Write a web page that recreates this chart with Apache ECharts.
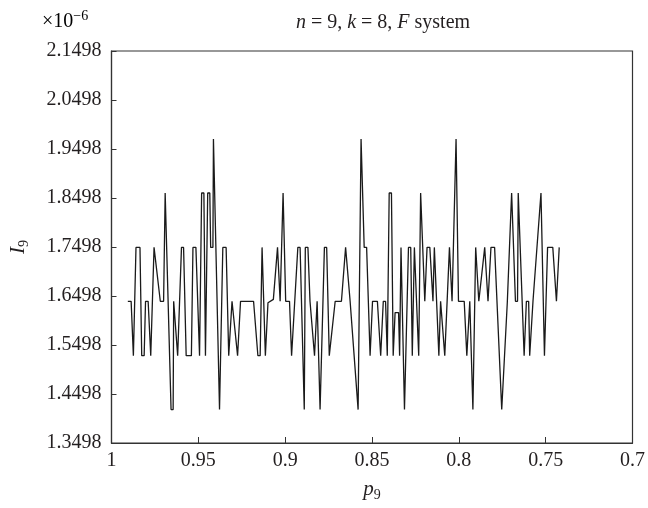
<!DOCTYPE html>
<html>
<head>
<meta charset="utf-8">
<script src="https://cdn.jsdelivr.net/npm/echarts@6/dist/echarts.min.js"></script>
<style>
html,body{margin:0;padding:0;background:#fff;}
#chart{width:648px;height:508px;}
</style>
</head>
<body>
<div id="chart"></div>
<script>
// p9 values (x) and I9 values (y, in units of 1e-6)
const pValues = [
0.9906,0.9887,0.9874,0.9864,0.9859,0.9836,0.9826,0.9812,0.9804,0.9789,
0.9774,0.9764,0.9755,0.9745,0.9719,0.9700,0.9691,0.9682,0.9657,0.9645,
0.9642,0.9634,0.9619,0.9597,0.9585,0.9570,0.9540,0.9531,0.9514,0.9493,
0.9484,0.9481,0.9468,0.9459,0.9450,0.9446,0.9434,0.9429,0.9416,0.9413,
0.9404,0.9378,0.9368,0.9359,0.9340,0.9325,0.9317,0.9306,0.9295,0.9274,
0.9257,0.9182,0.9157,0.9144,0.9133,0.9123,0.9114,0.9105,0.9099,0.9068,
0.9044,0.9034,0.9029,0.9020,0.9012,0.9003,0.8997,0.8975,0.8963,0.8927,
0.8914,0.8890,0.8884,0.8869,0.8857,0.8846,0.8831,0.8824,0.8816,0.8808,
0.8799,0.8790,0.8774,0.8761,0.8746,0.8737,0.8712,0.8676,0.8652,0.8643,
0.8626,0.8616,0.8580,0.8563,0.8554,0.8545,0.8531,0.8511,0.8497,0.8469,
0.8450,0.8441,0.8435,0.8422,0.8412,0.8401,0.8388,0.8378,0.8367,0.8347,
0.8341,0.8333,0.8324,0.8313,0.8290,0.8277,0.8268,0.8256,0.8247,0.8231,
0.8224,0.8220,0.8209,0.8196,0.8183,0.8167,0.8149,0.8141,0.8130,0.8115,
0.8105,0.8096,0.8081,0.8054,0.8047,0.8039,0.8030,0.8016,0.8007,0.8002,
0.7969,0.7964,0.7954,0.7945,0.7937,0.7928,0.7919,0.7909,0.7903,0.7892,
0.7885,0.7851,0.7843,0.7832,0.7815,0.7794,0.7753,0.7721,0.7711,0.7696,
0.7685,0.7674,0.7662,0.7658,0.7647,0.7624,0.7617,0.7611,0.7598,0.7592,
0.7583,0.7573,0.7562,0.7527,0.7521,0.7507,0.7496,0.7489,0.7459,0.7438,
0.7430,0.7422
];
const iValues = [
1.639,1.639,1.528,1.528,1.749,1.749,1.528,1.528,1.639,1.639,
1.528,1.528,1.749,1.749,1.639,1.639,1.860,1.860,1.418,1.418,
1.639,1.639,1.528,1.749,1.749,1.528,1.528,1.749,1.749,1.528,
1.528,1.860,1.860,1.528,1.528,1.860,1.860,1.749,1.749,1.970,
1.970,1.418,1.418,1.749,1.749,1.528,1.528,1.639,1.639,1.528,
1.639,1.639,1.528,1.528,1.749,1.749,1.528,1.528,1.636,1.643,
1.749,1.749,1.639,1.639,1.860,1.860,1.639,1.639,1.528,1.749,
1.749,1.418,1.749,1.749,1.639,1.639,1.528,1.528,1.639,1.639,
1.418,1.418,1.749,1.749,1.528,1.528,1.639,1.639,1.749,1.749,
1.639,1.639,1.418,1.970,1.970,1.749,1.749,1.528,1.639,1.639,
1.528,1.528,1.639,1.639,1.528,1.860,1.860,1.528,1.616,1.616,
1.528,1.749,1.749,1.418,1.749,1.749,1.528,1.749,1.749,1.528,
1.528,1.860,1.860,1.639,1.749,1.749,1.639,1.749,1.749,1.528,
1.639,1.639,1.528,1.749,1.749,1.639,1.639,1.970,1.970,1.639,
1.639,1.636,1.528,1.528,1.639,1.639,1.418,1.418,1.749,1.749,
1.639,1.749,1.749,1.639,1.749,1.749,1.418,1.636,1.639,1.860,
1.860,1.639,1.639,1.860,1.860,1.528,1.528,1.639,1.639,1.528,
1.528,1.639,1.639,1.860,1.860,1.528,1.528,1.749,1.749,1.639,
1.639,1.749
];
const xTicks = [1, 0.95, 0.9, 0.85, 0.8, 0.75, 0.7];
const xTickLabels = ['1', '0.95', '0.9', '0.85', '0.8', '0.75', '0.7'];
const yTicks = [1.3498, 1.4498, 1.5498, 1.6498, 1.7498, 1.8498, 1.9498, 2.0498, 2.1498];
const yTickLabels = ['1.3498', '1.4498', '1.5498', '1.6498', '1.7498', '1.8498', '1.9498', '2.0498', '2.1498'];

const FONT = "'Liberation Serif', 'DejaVu Serif', serif";
const TXT = '#231f20';
const AX = '#333333';

const data = pValues.map((p, i) => [p, iValues[i]]);

function lab(ticks, labels) {
  return function (v) {
    for (let i = 0; i < ticks.length; i++) {
      if (Math.abs(ticks[i] - v) < 1e-6) return labels[i];
    }
    return '';
  };
}

const chart = echarts.init(document.getElementById('chart'), null, {renderer: 'canvas'});
chart.setOption({
  animation: false,
  backgroundColor: '#ffffff',
  title: {
    text: '{i|n} = 9, {i|k} = 8, {i|F} system',
    left: 378, top: 8, textAlign: 'center',
    textStyle: {
      fontFamily: FONT, fontSize: 20, fontWeight: 'normal', color: TXT,
      rich: { i: { fontFamily: FONT, fontSize: 20, fontStyle: 'italic', color: TXT } }
    }
  },
  graphic: [{
    type: 'text', left: 42, top: 9,
    style: {
      text: '{a|×10}{b|−6}',
      rich: {
        a: { fontFamily: FONT, fontSize: 20, color: TXT, lineHeight: 26 },
        b: { fontFamily: FONT, fontSize: 14, color: TXT, verticalAlign: 'top', lineHeight: 14 }
      }
    }
  }],
  grid: { left: 106, right: 12, top: 51, bottom: 65, show: true, borderColor: AX, borderWidth: 1.2, containLabel: false },
  xAxis: {
    type: 'value', min: 0.7, max: 1, inverse: true,
    name: '{i|p}{s|9}', nameLocation: 'middle', nameGap: 33,
    nameTextStyle: {
      fontFamily: FONT, color: TXT,
      rich: {
        i: { fontFamily: FONT, fontSize: 21, fontStyle: 'italic', color: TXT, lineHeight: 26 },
        s: { fontFamily: FONT, fontSize: 14, color: TXT, verticalAlign: 'bottom', lineHeight: 14 }
      }
    },
    axisLine: { show: true, lineStyle: { color: AX, width: 1.2 } },
    axisTick: { show: true, inside: true, length: 6, customValues: xTicks, lineStyle: { color: AX } },
    axisLabel: { customValues: xTicks, formatter: lab(xTicks, xTickLabels), fontFamily: FONT, fontSize: 20, color: TXT, margin: 8 },
    splitLine: { show: false }
  },
  yAxis: {
    type: 'value', min: 1.3498, max: 2.1498,
    name: '{i|I}{s|9}', nameLocation: 'middle', nameGap: 80, nameRotate: 90,
    nameTextStyle: {
      fontFamily: FONT, color: TXT,
      rich: {
        i: { fontFamily: FONT, fontSize: 21, fontStyle: 'italic', color: TXT, lineHeight: 26 },
        s: { fontFamily: FONT, fontSize: 14, color: TXT, verticalAlign: 'bottom', lineHeight: 14 }
      }
    },
    axisLine: { show: true, lineStyle: { color: AX, width: 1.2 } },
    axisTick: { show: true, inside: true, length: 5, customValues: yTicks, lineStyle: { color: AX } },
    axisLabel: { customValues: yTicks, formatter: lab(yTicks, yTickLabels), fontFamily: FONT, fontSize: 20, color: TXT, margin: 10 },
    splitLine: { show: false }
  },
  series: [{
    type: 'line',
    data: data,
    symbol: 'none',
    lineStyle: { color: '#1a1a1a', width: 1.3 },
    clip: true
  }]
});
</script>
</body>
</html>
